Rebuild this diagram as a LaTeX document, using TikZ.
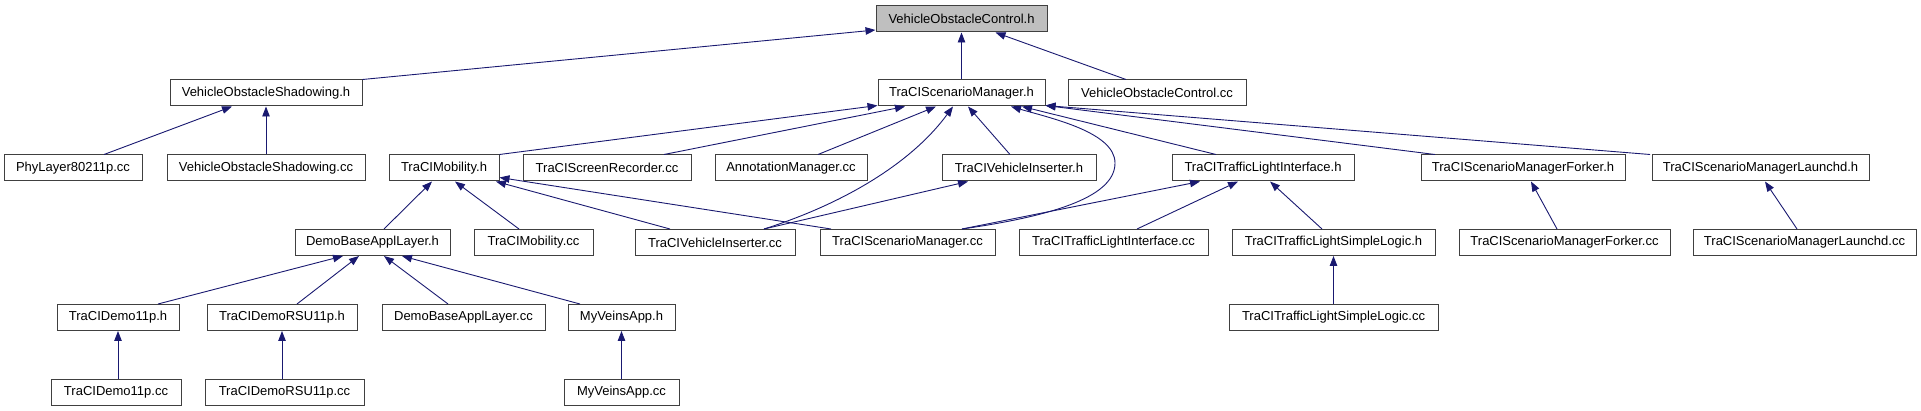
\documentclass[tikz,border=0pt]{standalone}
\usepackage{fontspec}
\setmainfont{Liberation Sans}
\usetikzlibrary{arrows.meta}
\definecolor{edgec}{HTML}{191970}
\definecolor{boxc}{HTML}{404040}
\begin{document}
\begin{tikzpicture}[x=1pt,y=-1pt,
  box/.style={draw=boxc, line width=1pt, rectangle, inner sep=0pt, minimum height=26pt,
              font=\fontsize{13}{15}\selectfont, text=black, fill=white},
  dep/.style={draw=edgec, line width=0.9pt, -{Triangle[length=10pt,width=7.5pt]}}
]
\useasboundingbox (0,0) rectangle (1921,411);
% rank 1
\node[box, minimum width=171pt, fill=gray!50] (voch) at (961.5,19) {VehicleObstacleControl.h};
% rank 2
\node[box, minimum width=192pt] (vosh) at (266,93) {VehicleObstacleShadowing.h};
\node[box, minimum width=167pt] (tsmh) at (961.5,93) {TraCIScenarioManager.h};
\node[box, minimum width=178pt] (voccc) at (1157,93) {VehicleObstacleControl.cc};
% rank 3
\node[box, minimum width=138pt] (phy) at (73,168) {PhyLayer80211p.cc};
\node[box, minimum width=198pt] (voscc) at (266,168) {VehicleObstacleShadowing.cc};
\node[box, minimum width=110pt] (mobh) at (444,168) {TraCIMobility.h};
\node[box, minimum width=168pt] (scr) at (607,168) {TraCIScreenRecorder.cc};
\node[box, minimum width=152pt] (ann) at (791,168) {AnnotationManager.cc};
\node[box, minimum width=154pt] (vih) at (1019,168) {TraCIVehicleInserter.h};
\node[box, minimum width=182pt] (tlih) at (1263,168) {TraCITrafficLightInterface.h};
\node[box, minimum width=204pt] (forkh) at (1523,168) {TraCIScenarioManagerForker.h};
\node[box, minimum width=217pt] (lauh) at (1760.5,168) {TraCIScenarioManagerLaunchd.h};
% rank 4
\node[box, minimum width=155pt] (dbalh) at (372.5,242.5) {DemoBaseApplLayer.h};
\node[box, minimum width=119pt] (mobcc) at (533.5,242.5) {TraCIMobility.cc};
\node[box, minimum width=160pt] (vicc) at (715,242.5) {TraCIVehicleInserter.cc};
\node[box, minimum width=175pt] (tsmcc) at (907.5,242.5) {TraCIScenarioManager.cc};
\node[box, minimum width=189pt] (tlicc) at (1113.5,242.5) {TraCITrafficLightInterface.cc};
\node[box, minimum width=203pt] (tlsh) at (1333.5,242.5) {TraCITrafficLightSimpleLogic.h};
\node[box, minimum width=211pt] (forkcc) at (1564.5,242.5) {TraCIScenarioManagerForker.cc};
\node[box, minimum width=223pt] (laucc) at (1804.5,242.5) {TraCIScenarioManagerLaunchd.cc};
% rank 5
\node[box, minimum width=122pt] (d11h) at (118,317.5) {TraCIDemo11p.h};
\node[box, minimum width=150pt] (rsuh) at (282,317.5) {TraCIDemoRSU11p.h};
\node[box, minimum width=163pt] (dbalcc) at (463.5,317.5) {DemoBaseApplLayer.cc};
\node[box, minimum width=107pt] (mvah) at (621.5,317.5) {MyVeinsApp.h};
\node[box, minimum width=209pt] (tlscc) at (1333.5,317.5) {TraCITrafficLightSimpleLogic.cc};
% rank 6
\node[box, minimum width=130pt] (d11cc) at (116,392) {TraCIDemo11p.cc};
\node[box, minimum width=159pt] (rsucc) at (284.5,392) {TraCIDemoRSU11p.cc};
\node[box, minimum width=115pt] (mvacc) at (621.5,392) {MyVeinsApp.cc};

% edges
\draw[dep] (vosh.north east) -- ([yshift=-11pt]voch.west);
\draw[dep] (tsmh.north) -- (voch.south);
\draw[dep] ([xshift=-31pt]voccc.north) -- ([xshift=34pt]voch.south);
\draw[dep] ([xshift=31pt]phy.north) -- ([xshift=-34pt]vosh.south);
\draw[dep] (voscc.north) -- (vosh.south);
\draw[dep] (mobh.north east) -- ([yshift=1pt]tsmh.south west);
\draw[dep] ([xshift=57pt]scr.north) -- ([xshift=-56.5pt]tsmh.south);
\draw[dep] ([xshift=27pt]ann.north) -- ([xshift=-25.5pt]tsmh.south);
\draw[dep] ([xshift=49pt]vicc.north) .. controls (840,205) and (910,165) .. ([xshift=-8.5pt]tsmh.south);
\draw[dep] ([xshift=-9pt]vih.north) -- ([xshift=6.5pt]tsmh.south);
\draw[dep] ([xshift=54.5pt]tsmcc.north) .. controls (1060,215) and (1115,195) .. (1115,163)
           .. controls (1115,132) and (1050,118) .. ([xshift=49.5pt]tsmh.south);
\draw[dep] ([xshift=-47pt]tlih.north) -- ([xshift=60.5pt]tsmh.south);
\draw[dep] ([xshift=-88pt]forkh.north) -- ([yshift=1pt]tsmh.south east);
\draw[dep] ([xshift=-110.5pt]lauh.north) -- ([yshift=1pt]tsmh.south east);
\draw[dep] ([xshift=11.5pt]dbalh.north) -- ([xshift=-12pt]mobh.south);
\draw[dep] ([xshift=-14.5pt]mobcc.north) -- ([xshift=11pt]mobh.south);
\draw[dep] ([xshift=-45pt]vicc.north) -- ([xshift=52pt]mobh.south);
\draw[dep] ([xshift=-76.5pt]tsmcc.north) -- ([yshift=4pt]mobh.south east);
\draw[dep] ([xshift=49pt]vicc.north) -- ([xshift=-51pt]vih.south);
\draw[dep] ([xshift=54.5pt]tsmcc.north) -- ([xshift=-63pt]tlih.south);
\draw[dep] ([xshift=23.5pt]tlicc.north) -- ([xshift=-25pt]tlih.south);
\draw[dep] ([xshift=-11.5pt]tlsh.north) -- ([xshift=7pt]tlih.south);
\draw[dep] (tlscc.north) -- (tlsh.south);
\draw[dep] ([xshift=-7.5pt]forkcc.north) -- ([xshift=8pt]forkh.south);
\draw[dep] ([xshift=-7.5pt]laucc.north) -- ([xshift=4.5pt]lauh.south);
\draw[dep] ([xshift=40pt]d11h.north) -- ([xshift=-29.5pt]dbalh.south);
\draw[dep] ([xshift=15pt]rsuh.north) -- ([xshift=-13.5pt]dbalh.south);
\draw[dep] ([xshift=-15.5pt]dbalcc.north) -- ([xshift=11.5pt]dbalh.south);
\draw[dep] ([xshift=-41.5pt]mvah.north) -- ([xshift=29.5pt]dbalh.south);
\draw[dep] (d11h.south |- d11cc.north) -- (d11h.south);
\draw[dep] (rsuh.south |- rsucc.north) -- (rsuh.south);
\draw[dep] (mvah.south |- mvacc.north) -- (mvah.south);
\end{tikzpicture}
\end{document}
